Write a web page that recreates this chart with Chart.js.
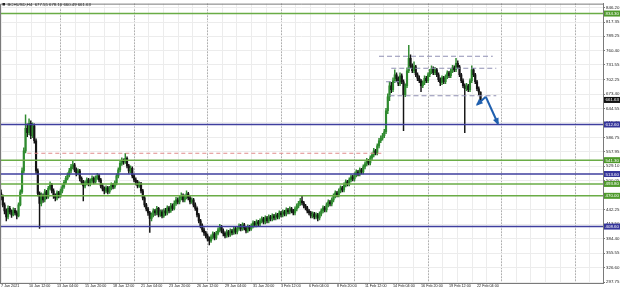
<!DOCTYPE html>
<html><head><meta charset="utf-8">
<script src="https://cdn.jsdelivr.net/npm/chart.js@4.4.1/dist/chart.umd.min.js"></script>
<style>html,body{margin:0;padding:0;background:#fff;}canvas{display:block;}</style>
</head><body>
<canvas id="c" width="620" height="290"></canvas>
<script>
const headerText = 'BCHUSD,H4  677.55 678.10 660.49 661.63';
const timeLabels = ['7 Jan 2021','10 Jan 12:00','13 Jan 04:00','15 Jan 20:00','18 Jan 12:00','21 Jan 04:00','23 Jan 20:00','26 Jan 12:00','29 Jan 04:00','31 Jan 20:00','3 Feb 12:00','6 Feb 04:00','8 Feb 20:00','11 Feb 12:00','14 Feb 04:00','16 Feb 20:00','19 Feb 12:00','22 Feb 04:00'];
const timeLabelBars = [0,16,32,48,64,80,96,112,128,144,160,176,192,208,224,240,256,272];
const weekStartBars = [13,55,97,139,181,223,265,307];
const priceTicks = [846.20,817.35,789.25,760.40,731.55,702.25,673.40,644.55,615.70,586.75,557.95,529.10,500.05,471.20,442.25,413.50,384.40,355.55,326.60,297.75];

const firstOpen = 476;
const closes = [
468,452,440,428,445,438,432,441,436,430,
452,478,520,560,605,596,615,590,610,580,
520,475,455,470,462,478,468,485,492,480,
470,466,476,470,480,488,497,505,512,520,
528,532,522,515,520,505,498,490,496,502,
494,500,505,498,506,510,502,490,484,480,
486,478,485,492,488,496,510,522,535,540,
538,545,530,520,525,510,502,498,490,494,
480,466,452,444,436,425,432,440,436,445,
432,438,430,440,436,446,440,450,445,455,
462,458,466,470,462,468,474,466,458,462,
452,445,432,420,410,402,396,390,384,380,
388,394,386,395,402,408,400,395,390,398,
392,400,396,404,398,405,410,404,412,406,
400,408,404,410,416,412,418,414,420,424,
418,426,420,428,424,430,426,432,428,436,
432,438,434,442,438,444,440,436,444,450,
455,460,456,450,446,440,436,430,434,428,
432,426,434,440,446,442,452,458,454,462,
470,476,472,480,486,482,492,498,494,502,
508,504,512,518,514,522,518,528,534,540,
536,546,552,560,556,570,580,585,590,598,
640,668,690,682,700,712,704,695,710,698,
672,690,720,745,730,720,728,712,705,700,
690,696,705,700,712,718,724,716,722,712,
702,696,706,698,708,716,710,720,726,722,
735,728,712,700,690,684,690,682,700,722,
712,698,684,677.55,661.63];
const highs = [
482,472,456,444,450,449,442,446,445,440,
456,482,526,566,632,614,624,620,616,614,
584,524,478,476,474,483,481,489,498,495,
484,474,480,479,484,492,501,509,516,525,
533,539,535,526,524,523,508,501,500,506,
505,504,510,508,510,515,513,505,494,488,
490,489,489,496,495,500,514,526,539,546,
544,555,548,533,530,528,513,506,501,498,
497,483,469,455,447,439,436,444,443,449,
447,442,442,444,445,450,449,455,454,460,
467,466,471,476,474,472,480,477,469,466,
465,456,448,435,423,414,406,399,394,388,
392,398,397,399,406,413,411,404,398,402,
401,404,403,408,407,409,414,413,416,415,
409,412,411,414,420,419,422,421,424,428,
427,430,429,432,431,434,433,436,435,440,
439,442,441,446,445,448,447,443,448,454,
459,465,470,459,453,449,443,439,438,437,
436,435,438,444,450,449,456,462,461,466,
474,480,479,484,490,489,496,502,501,506,
512,511,516,522,521,526,525,532,538,545,
543,550,556,565,563,574,585,590,595,603,
645,674,698,697,706,722,716,708,716,714,
702,694,726,771,752,734,738,731,716,710,
703,700,710,709,716,723,730,728,727,725,
716,706,710,709,712,720,719,724,731,730,
745,740,731,715,704,694,695,693,704,730,
725,715,701,688,678.10];
const lows = [
462,448,434,420,424,434,427,430,432,424,
428,450,475,516,556,588,592,584,586,575,
515,470,405,450,457,458,464,465,482,476,
465,460,462,466,467,476,485,494,502,508,
516,524,518,510,512,500,494,460,486,492,
490,490,496,494,495,503,498,486,480,474,
476,474,475,482,484,485,492,506,518,531,
533,535,526,515,516,506,498,492,486,487,
476,462,448,440,431,397,420,428,431,432,
428,429,426,427,431,432,436,437,441,442,
451,454,454,462,458,458,464,462,454,455,
448,441,428,416,406,398,391,386,380,372,
377,384,382,383,392,398,396,390,386,387,
388,389,392,393,394,394,401,400,401,402,
396,397,400,401,406,408,408,410,410,416,
414,414,416,416,420,420,422,422,424,424,
428,428,430,430,434,434,436,432,432,440,
446,451,452,446,442,436,432,426,426,424,
424,420,422,430,436,438,438,448,450,450,
458,466,468,468,476,478,478,488,490,490,
498,500,500,508,510,510,514,514,524,530,
532,532,542,548,552,552,566,576,581,586,
594,634,660,676,678,696,698,690,690,694,
600,668,686,716,726,716,716,708,700,696,
678,686,692,696,696,708,714,712,712,708,
698,690,692,694,694,704,706,706,716,718,
718,724,708,696,686,596,680,678,678,696,
708,694,680,672,660.49];

const greenLevels = [834.30, 541.30, 493.80, 470.00];
const blueLevels = [612.60, 513.60, 408.60];
const redLevelPrice = [555.10];
const redLevelFrom = [15];
const redLevelTo = [218];
const grayLevelPrice = [749, 725, 698, 670];
const grayLevelFrom = [216, 223, 220, 222];
const grayLevelTo = [281, 283, 229, 283];
const arrowShortX = [277, 272];
const arrowShortY = [668, 652];
const arrowLongX = [277, 284];
const arrowLongY = [668, 614];
const lastPrice = 661.63;

const X_MIN = -0.6, X_MAX = 344;
const BULL = '#2f8a2f', BEAR = '#141414';
const GREEN = '#6aac46', BLUE = '#3f3f9e';

const opens = closes.map((c, i) => i === 0 ? firstOpen : closes[i - 1]);
const candleColors = closes.map((c, i) => c >= opens[i] ? BULL : BEAR);

const datasets = [];
greenLevels.forEach(v => datasets.push({type:'line', data:[{x:X_MIN-1,y:v},{x:X_MAX+1,y:v}], borderColor:GREEN, borderWidth:1.5, pointRadius:0, order:0, isLevel:true}));
blueLevels.forEach(v => datasets.push({type:'line', data:[{x:X_MIN-1,y:v},{x:X_MAX+1,y:v}], borderColor:BLUE, borderWidth:1.5, pointRadius:0, order:0}));
redLevelPrice.forEach((v,i) => datasets.push({type:'line', data:[{x:redLevelFrom[i],y:v},{x:redLevelTo[i],y:v}], borderColor:'#e08a8a', borderWidth:1, borderDash:[4,3], pointRadius:0, order:0}));
grayLevelPrice.forEach((v,i) => datasets.push({type:'line', data:[{x:grayLevelFrom[i],y:v},{x:grayLevelTo[i],y:v}], borderColor:'#9090b4', borderWidth:1.2, borderDash:[5,3], pointRadius:0, order:0}));
const arrowStart = datasets.length;
datasets.push({type:'line', data:arrowShortX.map((x,i)=>({x, y:arrowShortY[i]})), borderColor:'#1f5fae', borderWidth:2, pointRadius:0, order:0});
datasets.push({type:'line', data:arrowLongX.map((x,i)=>({x, y:arrowLongY[i]})), borderColor:'#1f5fae', borderWidth:2, pointRadius:0, order:0});
datasets.push({type:'bar', data:closes.map((c,i)=>({x:i, y:[opens[i], c]})), backgroundColor:candleColors, barThickness:1.5, minBarLength:1, grouped:false, borderWidth:0, order:1});
datasets.push({type:'bar', data:closes.map((c,i)=>({x:i, y:[lows[i], highs[i]]})), backgroundColor:candleColors, barThickness:0.8, grouped:false, borderWidth:0, order:2});

const FONT = '"Liberation Sans", Arial, sans-serif';

const deco = {
  id: 'deco',
  afterDatasetsDraw(chart) {
    const ctx = chart.ctx;
    [arrowStart, arrowStart + 1].forEach(idx => {
      const pts = chart.getDatasetMeta(idx).data;
      const p1 = pts[0], p2 = pts[1];
      const ang = Math.atan2(p2.y - p1.y, p2.x - p1.x);
      const L = 5.5, W = 3;
      ctx.save();
      ctx.fillStyle = '#1f5fae';
      ctx.translate(p2.x, p2.y);
      ctx.rotate(ang);
      ctx.beginPath();
      ctx.moveTo(1.5, 0);
      ctx.lineTo(-L, -W);
      ctx.lineTo(-L, W);
      ctx.closePath();
      ctx.fill();
      ctx.restore();
    });
  },
  afterDraw(chart) {
    const ctx = chart.ctx, a = chart.chartArea, y = chart.scales.y;
    ctx.save();
    ctx.strokeStyle = '#7a7a7a';
    ctx.lineWidth = 1;
    ctx.beginPath();
    ctx.moveTo(a.left + 0.5, a.bottom);
    ctx.lineTo(a.left + 0.5, a.top + 0.5);
    ctx.lineTo(a.right, a.top + 0.5);
    ctx.stroke();
    // header
    ctx.fillStyle = '#222';
    ctx.fillRect(2.5, 3, 2.5, 2.5);
    ctx.font = '4.3px ' + FONT;
    ctx.textBaseline = 'middle';
    ctx.textAlign = 'left';
    ctx.fillText(headerText, 7.5, 4.5);
    // price tags
    const tags = [];
    greenLevels.forEach(v => tags.push({v, bg:'#4f9a2c'}));
    blueLevels.forEach(v => tags.push({v, bg:'#35359a'}));
    tags.push({v:lastPrice, bg:'#111'});
    ctx.font = '4.4px ' + FONT;
    tags.forEach(t => {
      const py = y.getPixelForValue(t.v);
      ctx.fillStyle = t.bg;
      ctx.fillRect(a.right + 1, py - 3, 16, 6);
      ctx.fillStyle = '#fff';
      ctx.fillText(t.v.toFixed(2), a.right + 2.5, py + 0.3);
    });
    ctx.restore();
  }
};

const fineGrid = [];
for (let b = weekStartBars[0] - 8.4 * 2; b <= X_MAX; b += 8.4) fineGrid.push(b);

new Chart(document.getElementById('c'), {
  type: 'bar',
  data: { datasets },
  options: {
    responsive: false,
    animation: false,
    devicePixelRatio: 1,
    events: [],
    layout: { padding: 0 },
    plugins: { legend: {display:false}, tooltip: {enabled:false}, title: {display:false} },
    scales: {
      x: {
        type: 'linear', axis: 'x', position: 'bottom', min: X_MIN, max: X_MAX, offset: false,
        afterBuildTicks: s => { s.ticks = timeLabelBars.map(v => ({value: v})); },
        afterFit: s => { s.height = 7; },
        ticks: { callback: (v, i) => timeLabels[i], align: 'start', autoSkip: false, maxRotation: 0, minRotation: 0, padding: 1, color: '#222', font: {size: 3.7, family: FONT} },
        grid: { display: false, drawTicks: false, offset: false },
        border: { display: true, color: '#7a7a7a', width: 1 }
      },
      xg: {
        type: 'linear', axis: 'x', position: 'bottom', min: X_MIN, max: X_MAX, offset: false,
        afterBuildTicks: s => { s.ticks = fineGrid.map(v => ({value: v})); },
        afterFit: s => { s.height = 0; },
        ticks: { display: false },
        grid: { color: '#ececec', lineWidth: 1, drawTicks: false },
        border: { display: false }
      },
      xw: {
        type: 'linear', axis: 'x', position: 'bottom', min: X_MIN, max: X_MAX, offset: false,
        afterBuildTicks: s => { s.ticks = weekStartBars.map(v => ({value: v})); },
        afterFit: s => { s.height = 0; },
        ticks: { display: false },
        grid: { color: '#8a8a8a', lineWidth: 1, drawTicks: false },
        border: { display: false, dash: [1, 2] }
      },
      y: {
        type: 'linear', position: 'right', min: 295.8, max: 854.1,
        afterBuildTicks: s => { s.ticks = priceTicks.map(v => ({value: v})); },
        afterFit: s => { s.width = 17; },
        ticks: { callback: v => v.toFixed(2), autoSkip: false, padding: 1, color: '#222', font: {size: 4.4, family: FONT} },
        grid: { color: '#ececec', lineWidth: 1, drawTicks: true, tickLength: 2, tickColor: '#7a7a7a' },
        border: { display: true, color: '#7a7a7a', width: 1 }
      }
    }
  },
  plugins: [deco]
});
</script>
</body></html>
